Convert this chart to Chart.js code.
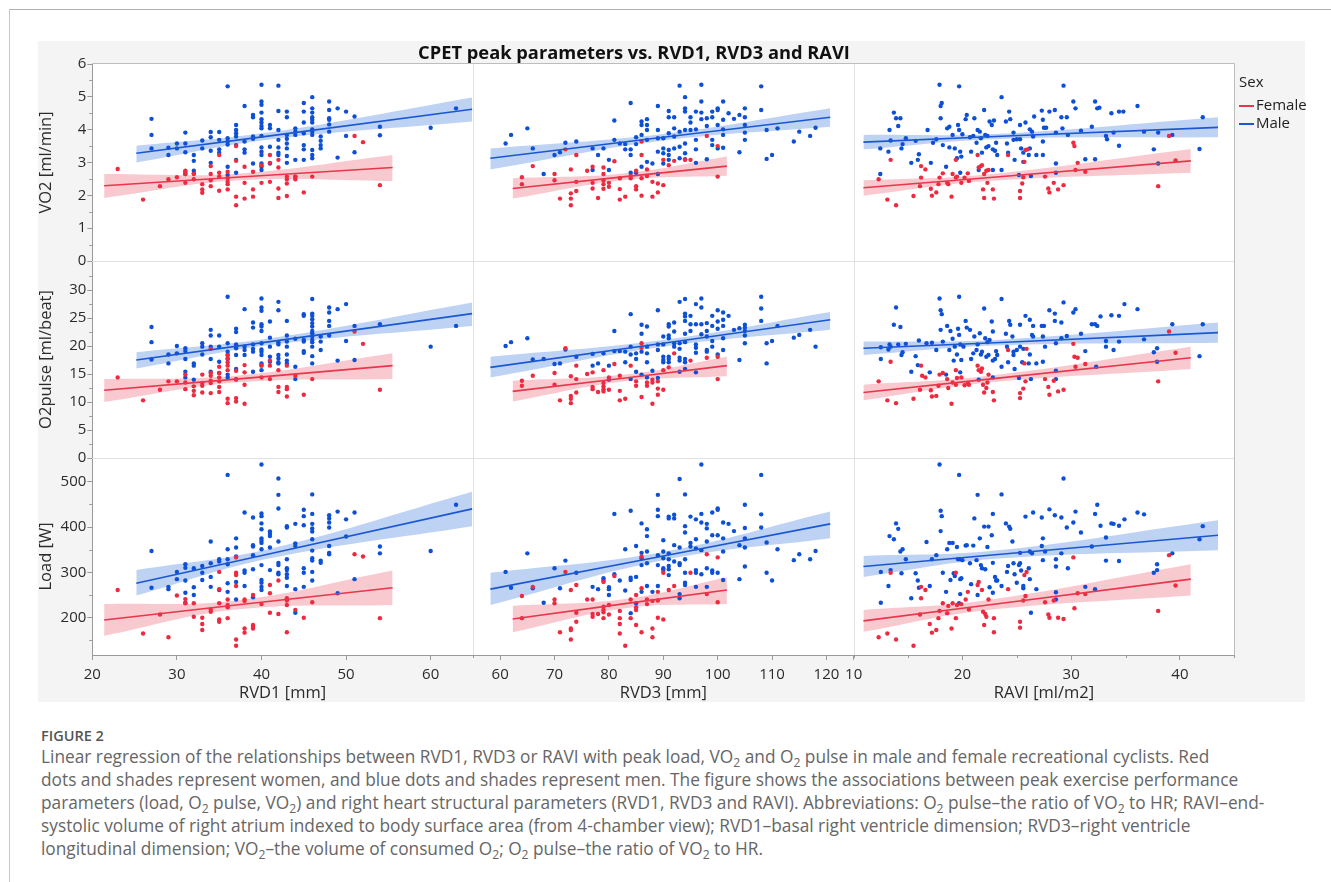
<!DOCTYPE html>
<html>
<head>
<meta charset="utf-8">
<script src="https://cdn.jsdelivr.net/npm/chart.js@4.4.1/dist/chart.umd.min.js"></script>
<style>
  body { margin: 0; background: #fff; font-family: "Open Sans", sans-serif; }
  #frame { position: absolute; left: 9px; top: 9px; right: 0; bottom: 0; border-top: 1px solid #b0b0b0; border-left: 1px solid #c8c8c8; }
  #panel { position: absolute; left: 38px; top: 41px; width: 1267px; height: 661px; background: #f4f4f4; }
  #title { position: absolute; left: 0; width: 1268px; top: 39px; line-height: 24px; text-align: center;
           font: bold 18.3px "Open Sans", sans-serif; color: #111; }
  #legend { position: absolute; left: 1239px; top: 72px; font: 15px "Open Sans", sans-serif; color: #222; }
  #legend div { height: 18px; line-height: 18px; white-space: nowrap; }
  #legend span { display: inline-block; width: 15px; height: 2px; vertical-align: middle; margin-right: 2px; }
  #fig { position: absolute; left: 41px; top: 726px; font: 600 14.5px "Open Sans", sans-serif; color: #555; line-height: 20px; }
  #caption { position: absolute; left: 41px; top: 744.5px; font: 17.3px "Open Sans", sans-serif; color: #666; line-height: 23px; white-space: nowrap; }
  sub { font-size: 70%; line-height: 0; }
</style>
</head>
<body>
<div id="frame"></div>
<div id="panel"><canvas id="grid" width="1267" height="661"></canvas></div>
<div id="title">CPET peak parameters vs. RVD1, RVD3 and RAVI</div>
<div id="legend">
  <div style="margin-bottom:5px">Sex</div>
  <div><span style="background:#e8364b"></span>Female</div>
  <div><span style="background:#1a58d2"></span>Male</div>
</div>
<div id="fig">FIGURE 2</div>
<div id="caption">
Linear regression of the relationships between RVD1, RVD3 or RAVI with peak load, VO<sub>2</sub> and O<sub>2</sub> pulse in male and female recreational cyclists. Red<br>
dots and shades represent women, and blue dots and shades represent men. The figure shows the associations between peak exercise performance<br>
parameters (load, O<sub>2</sub> pulse, VO<sub>2</sub>) and right heart structural parameters (RVD1, RVD3 and RAVI). Abbreviations: O<sub>2</sub> pulse–the ratio of VO<sub>2</sub> to HR; RAVI–end-<br>
systolic volume of right atrium indexed to body surface area (from 4-chamber view); RVD1–basal right ventricle dimension; RVD3–right ventricle<br>
longitudinal dimension; VO<sub>2</sub>–the volume of consumed O<sub>2</sub>; O<sub>2</sub> pulse–the ratio of VO<sub>2</sub> to HR.
</div>
<script>
// tick labels
const vo2Ticks = [0, 1, 2, 3, 4, 5, 6];
const vo2Minor = [0.5, 1.5, 2.5, 3.5, 4.5, 5.5];
const o2pTicks = [0, 5, 10, 15, 20, 25, 30];
const o2pMinor = [2.5, 7.5, 12.5, 17.5, 22.5, 27.5, 32.5];
const loadTicks = [200, 300, 400, 500];
const loadMinor = [150, 250, 350, 450];
const rvd1Ticks = [20, 30, 40, 50, 60];
const rvd1Minor = [65];
const rvd3Ticks = [60, 70, 80, 90, 100, 110, 120];
const rvd3Minor = [55, 125];
const raviTicks = [10, 20, 30, 40];
const raviMinor = [15, 25, 35, 45];

// VO2 peak vs RVD1 / RVD3 / RAVI  [x, y]
const vo2Rvd1M = [[27,4.33],[27,3.84],[27,3.43],[29,3.45],[29,3.23],[30,3.58],[30,3.43],[31,3.91],[31,3.58],[31,3.31],[31,2.72],[31,2.65],[32,3.23],[32,3.05],[32,2.75],[32,2.67],[33,3.67],[33,3.43],[34,3.93],[34,3.77],[34,3.36],[34,2.99],[35,3.93],[35,3.69],[35,3.40],[35,3.30],[36,5.32],[36,3.74],[36,3.64],[36,3.55],[36,2.87],[36,2.62],[37,4.14],[37,3.99],[37,3.89],[37,3.79],[37,3.53],[37,3.08],[37,2.69],[38,4.72],[38,3.64],[38,3.40],[38,3.30],[39,4.45],[39,4.38],[39,3.79],[39,3.72],[39,2.97],[40,5.37],[40,4.86],[40,4.76],[40,4.52],[40,4.32],[40,4.22],[40,4.11],[40,4.04],[40,3.81],[40,3.46],[40,3.33],[40,3.23],[40,2.97],[40,2.87],[40,2.77],[41,4.14],[41,4.04],[41,3.48],[41,2.97],[42,5.34],[42,4.57],[42,3.99],[42,3.69],[42,3.46],[42,3.30],[42,3.23],[43,4.55],[43,4.38],[43,3.84],[43,3.72],[43,3.58],[43,3.43],[43,3.20],[43,2.99],[44,4.04],[44,3.94],[44,3.84],[44,3.08],[44,2.57],[45,4.81],[45,4.55],[45,4.22],[45,3.89],[45,3.53],[45,3.40],[45,3.08],[46,4.99],[46,4.65],[46,4.52],[46,4.38],[46,4.30],[46,4.22],[46,4.01],[46,3.94],[46,3.84],[46,3.38],[46,3.23],[46,3.13],[47,3.79],[47,3.66],[47,3.53],[47,3.43],[48,4.86],[48,4.60],[48,4.35],[48,4.30],[48,4.16],[48,3.94],[49,4.65],[49,3.15],[50,4.55],[50,3.81],[51,4.40],[51,3.31],[54,4.09],[54,3.83],[60,4.06],[63,4.65]];
const vo2Rvd1F = [[23,2.80],[26,1.87],[28,2.28],[29,2.49],[30,2.55],[31,2.75],[31,2.65],[31,2.38],[32,2.65],[32,2.49],[33,2.34],[33,2.18],[33,2.08],[34,2.89],[34,2.65],[34,2.46],[34,2.28],[35,3.23],[35,2.69],[35,2.57],[35,2.14],[36,2.72],[36,2.52],[36,2.41],[36,2.34],[36,2.18],[37,3.50],[37,3.05],[37,1.96],[37,1.70],[38,2.87],[38,2.38],[38,1.90],[39,2.72],[39,2.18],[39,1.96],[40,2.92],[40,2.38],[41,3.23],[41,2.99],[41,2.41],[42,3.08],[42,2.85],[42,2.21],[42,1.92],[43,2.57],[43,2.49],[43,2.36],[43,1.98],[44,2.57],[44,2.49],[45,2.09],[46,2.57],[51,3.81],[52,3.62],[54,2.31]];
const vo2Rvd3M = [[61,3.58],[62,3.84],[65,4.04],[66,3.43],[68,2.65],[70,3.23],[71,3.31],[72,3.60],[74,3.64],[77,3.43],[77,2.77],[78,3.23],[79,3.43],[80,3.08],[80,2.77],[81,4.28],[81,3.69],[82,3.58],[83,3.56],[83,3.40],[84,4.81],[84,3.40],[84,3.23],[84,2.69],[85,3.77],[85,3.56],[85,2.69],[86,4.25],[86,4.14],[86,3.84],[86,2.87],[87,4.32],[87,4.14],[87,3.99],[87,3.69],[87,3.02],[88,2.97],[89,4.72],[89,3.99],[89,3.74],[89,3.33],[89,2.65],[90,3.74],[90,3.43],[90,3.28],[90,2.97],[91,4.57],[91,4.38],[91,3.89],[91,3.38],[91,3.23],[91,3.08],[92,4.38],[92,4.04],[92,3.79],[92,3.43],[93,5.34],[93,3.94],[93,3.48],[93,3.13],[94,4.99],[94,4.65],[94,4.55],[94,3.99],[94,3.58],[94,3.28],[94,3.10],[95,4.38],[95,4.22],[95,3.99],[96,4.55],[96,4.01],[96,3.69],[96,3.40],[96,2.99],[97,5.37],[97,4.86],[97,4.52],[97,4.32],[98,4.35],[98,4.11],[98,3.10],[99,4.55],[99,4.38],[99,3.69],[99,3.53],[100,4.65],[100,4.60],[100,4.14],[100,3.43],[101,4.86],[101,4.30],[101,4.01],[101,3.84],[101,3.45],[102,4.50],[103,4.33],[104,4.45],[104,3.31],[105,4.65],[105,4.38],[105,4.14],[105,3.91],[105,3.69],[108,5.32],[108,4.60],[109,3.99],[109,3.11],[110,3.23],[111,4.04],[114,3.64],[115,3.94],[117,3.81],[118,4.06]];
const vo2Rvd3F = [[64,2.55],[64,2.34],[66,2.89],[70,2.65],[70,2.46],[71,1.90],[72,3.40],[73,2.79],[73,2.06],[73,1.90],[73,1.70],[74,3.23],[74,2.41],[74,2.13],[76,2.75],[77,2.87],[77,2.38],[77,2.21],[78,1.92],[79,2.85],[79,2.65],[79,2.46],[79,2.34],[79,2.20],[80,2.38],[80,2.26],[81,3.04],[82,2.52],[82,2.19],[82,1.87],[83,1.96],[84,2.59],[84,2.52],[85,2.75],[85,2.28],[85,2.18],[86,3.64],[86,3.23],[86,2.52],[86,1.99],[87,2.79],[87,2.59],[88,2.41],[88,1.96],[89,2.36],[89,2.09],[90,3.08],[90,2.31],[91,2.92],[92,3.05],[94,3.08],[95,3.08],[98,3.81],[100,3.50],[100,2.57]];
const vo2RaviM = [[12.45,2.65],[12.45,3.43],[13.2,3.33],[13.3,3.99],[13.4,3.67],[13.7,4.52],[13.9,4.35],[14.1,4.11],[14.3,4.35],[14.4,3.43],[14.5,3.56],[14.8,3.74],[15.3,2.99],[15.7,3.66],[15.9,3.08],[16.0,3.25],[16.8,3.99],[17.1,2.99],[17.3,3.60],[17.6,3.71],[17.9,5.37],[18.0,4.72],[18.1,4.81],[18.0,4.35],[18.2,3.53],[18.5,2.87],[18.6,4.04],[18.8,4.09],[18.8,3.46],[19.1,3.84],[19.3,3.43],[19.5,3.13],[19.6,4.14],[19.7,5.32],[19.7,3.99],[19.8,2.69],[19.8,3.33],[19.9,3.18],[20.0,3.86],[20.3,4.32],[20.4,4.45],[20.7,3.77],[20.8,3.33],[21.0,3.81],[21.1,4.35],[21.3,3.60],[21.4,3.99],[21.5,2.77],[21.6,3.94],[21.7,3.74],[21.8,3.30],[22.0,4.60],[22.1,3.84],[22.2,3.46],[22.3,3.81],[22.4,3.50],[22.5,4.25],[22.7,4.14],[22.8,3.40],[22.9,4.28],[22.8,2.77],[23.0,3.36],[23.1,3.60],[23.2,3.23],[23.6,4.99],[23.6,2.77],[24.0,4.25],[24.1,3.58],[24.2,3.30],[24.3,4.55],[24.4,4.32],[24.7,3.91],[24.7,3.69],[24.8,3.08],[25.0,3.71],[25.2,2.62],[25.3,3.71],[25.3,4.14],[25.4,3.43],[25.6,3.02],[25.6,3.30],[25.8,4.22],[26.1,3.23],[26.2,4.01],[26.2,3.43],[26.3,2.59],[26.4,3.94],[26.5,3.79],[26.6,4.40],[26.8,3.23],[27.3,4.58],[27.4,3.23],[27.4,3.64],[27.4,4.30],[27.5,4.06],[27.7,4.06],[28.0,4.55],[28.5,4.60],[28.6,2.97],[28.6,3.91],[28.6,2.69],[29.1,4.38],[29.3,5.34],[29.2,4.04],[29.6,4.38],[29.7,3.84],[30.2,4.86],[30.4,4.65],[30.9,3.97],[31.3,3.10],[31.9,4.09],[32.2,4.86],[32.4,4.65],[32.6,4.67],[32.2,3.10],[33.2,3.81],[33.3,3.71],[33.7,4.50],[33.9,3.91],[34.4,4.55],[34.4,3.51],[34.8,4.55],[36.1,4.72],[36.7,3.94],[37.6,3.40],[38.0,3.91],[38.0,2.97],[39.3,3.84],[41.8,3.41],[42.1,4.38]];
const vo2RaviF = [[12.3,2.49],[13.1,1.87],[13.4,3.08],[13.9,1.70],[15.5,1.98],[16.1,2.28],[16.2,2.54],[16.2,2.89],[16.6,2.79],[17.1,2.20],[17.2,1.99],[17.6,2.09],[17.8,2.34],[17.9,2.54],[18.2,2.67],[18.6,2.38],[18.7,2.34],[19.0,1.96],[19.1,2.65],[19.4,2.54],[19.4,3.08],[19.5,2.57],[19.9,2.38],[20.2,2.54],[20.5,2.67],[20.6,2.44],[21.4,3.23],[21.5,2.85],[21.7,2.89],[21.8,2.92],[21.9,2.18],[22.0,2.65],[22.0,1.92],[22.2,2.75],[22.4,2.77],[22.3,2.38],[22.8,2.18],[22.9,1.90],[24.2,3.23],[25.3,1.92],[25.3,2.13],[25.5,2.36],[25.6,2.55],[25.7,3.02],[25.8,3.38],[26.0,3.40],[27.6,2.57],[27.9,2.21],[28.0,2.09],[28.4,2.38],[28.8,2.18],[29.3,2.31],[30.2,3.60],[30.3,3.50],[30.6,2.99],[30.4,2.77],[31.3,2.72],[38.0,2.28],[39.0,3.81],[39.6,3.06]];

// O2 pulse peak vs RVD1 / RVD3 / RAVI
const o2pRvd1M = [[27,23.4],[27,20.7],[27,17.6],[29,18.5],[29,16.9],[30,20.0],[30,18.7],[31,19.6],[31,19.1],[31,17.7],[31,15.4],[31,14.4],[32,16.9],[32,16.5],[32,14.0],[33,20.5],[33,19.9],[33,18.5],[34,22.9],[34,21.9],[34,19.9],[34,17.7],[34,15.4],[35,21.9],[35,19.9],[35,17.2],[35,15.2],[36,28.8],[36,20.5],[36,19.0],[36,18.4],[36,17.7],[36,14.9],[36,14.4],[37,23.1],[37,22.5],[37,20.3],[37,19.9],[37,19.6],[37,18.4],[37,15.9],[37,14.1],[38,26.6],[38,19.9],[38,19.3],[38,18.4],[39,24.2],[39,23.3],[39,20.3],[39,19.5],[39,19.0],[39,15.4],[40,28.5],[40,26.9],[40,26.3],[40,23.9],[40,23.5],[40,22.7],[40,20.5],[40,19.4],[40,19.0],[40,18.4],[40,16.9],[40,16.5],[40,15.7],[41,24.4],[41,21.5],[41,19.9],[41,18.1],[41,17.2],[42,27.9],[42,26.4],[42,20.7],[42,20.3],[42,18.4],[42,17.8],[42,17.1],[42,16.9],[43,24.5],[43,21.9],[43,20.8],[43,19.9],[43,18.5],[43,17.4],[43,16.9],[44,21.3],[44,16.3],[44,14.1],[45,25.7],[45,25.4],[45,21.1],[45,20.8],[45,19.1],[45,18.8],[46,28.4],[46,25.8],[46,25.4],[46,24.8],[46,24.1],[46,23.5],[46,22.7],[46,22.3],[46,21.7],[46,21.1],[46,20.7],[46,19.9],[46,18.2],[46,16.9],[47,21.7],[47,20.8],[47,19.3],[48,26.9],[48,26.0],[48,24.5],[48,23.6],[48,21.9],[49,26.6],[49,17.4],[50,27.5],[50,20.9],[51,23.6],[51,17.5],[54,23.9],[60,19.9],[63,23.6]];
const o2pRvd1F = [[23,14.4],[26,10.3],[28,12.2],[29,13.7],[30,13.7],[31,14.9],[31,13.5],[31,12.3],[32,12.8],[32,12.0],[32,11.2],[33,14.9],[33,13.4],[33,12.9],[33,11.7],[34,19.5],[34,15.2],[34,14.7],[34,13.8],[34,13.4],[34,11.6],[35,16.3],[35,15.2],[35,14.4],[35,13.7],[35,12.7],[35,11.8],[36,18.4],[36,17.8],[36,17.1],[36,16.5],[36,15.7],[36,10.6],[36,9.8],[37,15.6],[37,14.0],[37,10.7],[37,10.1],[38,16.6],[38,15.3],[38,13.1],[38,9.7],[40,16.6],[40,14.4],[41,17.4],[41,16.5],[41,14.1],[42,15.7],[42,12.7],[42,11.8],[43,16.5],[43,12.7],[43,12.3],[43,11.0],[44,14.7],[45,11.3],[46,14.1],[51,22.6],[52,20.4],[54,12.2]];
const o2pRvd3M = [[61,20.0],[62,20.7],[65,21.4],[66,17.6],[68,17.7],[70,16.8],[71,16.9],[72,19.4],[74,18.1],[77,18.6],[77,16.5],[78,16.9],[79,18.7],[80,16.5],[80,14.0],[81,22.7],[81,19.1],[82,19.1],[83,19.0],[83,17.1],[84,25.7],[84,19.9],[84,18.5],[84,14.1],[85,18.7],[85,17.7],[85,15.4],[86,23.8],[86,22.2],[86,19.0],[86,14.9],[87,23.5],[87,19.9],[87,18.7],[87,17.1],[87,14.4],[88,15.6],[89,26.4],[89,20.3],[89,19.3],[89,14.3],[90,21.7],[90,20.3],[90,18.1],[90,17.5],[90,17.1],[91,23.9],[91,23.5],[91,21.9],[91,21.4],[91,18.1],[91,17.7],[91,17.1],[92,24.2],[92,22.6],[92,19.9],[92,20.5],[93,27.9],[93,20.5],[93,19.5],[93,17.9],[93,17.4],[93,15.4],[94,28.4],[94,25.8],[94,25.3],[94,24.5],[94,22.2],[94,20.7],[94,17.7],[94,17.1],[94,15.9],[95,25.4],[95,23.9],[95,22.7],[96,27.5],[96,23.9],[96,20.3],[96,19.7],[96,18.8],[96,15.3],[97,28.5],[97,26.9],[97,23.9],[97,22.1],[98,24.1],[98,22.7],[98,21.7],[98,19.3],[98,19.0],[99,25.4],[99,23.6],[99,20.9],[99,19.9],[100,26.4],[100,24.4],[100,23.1],[100,18.5],[101,26.0],[101,24.7],[101,23.6],[101,21.4],[101,19.3],[102,25.4],[103,22.9],[104,23.2],[104,17.5],[105,23.8],[105,23.3],[105,22.7],[105,21.9],[105,20.5],[108,28.8],[108,26.7],[108,24.5],[109,20.5],[109,16.9],[110,20.9],[111,23.6],[114,21.5],[115,22.0],[117,22.9],[118,19.9]];
const o2pRvd3F = [[64,13.8],[64,12.9],[66,14.7],[70,15.2],[70,13.1],[71,10.3],[72,19.6],[73,14.6],[73,11.1],[73,10.6],[73,9.8],[74,16.5],[74,14.1],[74,11.7],[76,15.0],[77,15.3],[77,12.7],[77,12.3],[78,11.8],[79,15.7],[79,13.4],[79,12.8],[79,12.3],[79,11.9],[80,14.4],[80,12.2],[81,16.8],[82,14.7],[82,12.0],[82,10.3],[83,10.6],[84,16.5],[85,13.7],[85,12.9],[86,20.5],[86,19.7],[86,10.9],[87,13.5],[87,12.9],[88,14.0],[88,13.5],[88,9.7],[89,13.7],[89,12.4],[89,11.3],[90,15.7],[90,12.2],[91,16.2],[92,18.7],[95,17.4],[98,17.9],[100,18.1],[100,14.1]];
const o2pRaviM = [[12.5,17.7],[12.5,19.8],[13.2,19.4],[13.3,20.3],[13.4,19.9],[13.7,23.8],[13.9,26.9],[14.1,20.3],[14.3,23.4],[14.4,18.4],[14.5,18.9],[14.8,20.4],[15.3,15.4],[15.7,18.2],[15.9,16.6],[16.0,21.0],[16.7,20.5],[17.0,15.3],[17.2,20.6],[17.6,19.3],[17.9,28.5],[18.0,26.4],[18.1,25.7],[18.0,22.9],[18.2,20.8],[18.5,14.9],[18.6,23.6],[18.8,19.3],[18.9,22.7],[19.1,21.3],[19.3,19.9],[19.2,17.4],[19.5,18.5],[19.6,23.1],[19.7,28.8],[19.7,22.0],[19.8,15.3],[19.8,20.3],[19.9,17.5],[20.1,19.9],[20.3,24.5],[20.4,23.3],[20.7,22.9],[20.8,17.7],[21.0,18.7],[21.1,21.7],[21.3,19.3],[21.4,20.3],[21.5,14.0],[21.6,22.3],[21.7,18.5],[21.8,19.0],[22.0,26.7],[22.1,21.4],[22.2,18.1],[22.3,20.7],[22.4,18.4],[22.5,21.1],[22.7,24.4],[22.8,17.4],[22.8,22.6],[22.8,14.4],[23.0,17.7],[23.1,19.1],[23.2,18.4],[23.6,28.4],[23.6,16.3],[24.0,22.2],[24.1,19.9],[24.2,17.1],[24.3,24.5],[24.4,23.8],[24.6,21.7],[24.7,18.4],[24.7,19.0],[24.8,15.9],[25.0,19.3],[25.2,14.3],[25.3,19.9],[25.3,23.8],[25.5,17.1],[25.6,19.5],[25.8,25.4],[26.1,16.9],[26.2,24.7],[26.2,18.5],[26.3,14.1],[26.4,22.0],[26.5,23.6],[26.5,21.7],[26.8,16.9],[27.3,23.6],[27.4,17.2],[27.5,23.6],[27.4,21.7],[27.6,19.9],[28.0,26.4],[28.5,25.8],[28.5,24.5],[28.6,20.5],[28.6,15.6],[28.6,14.1],[29.1,24.2],[29.1,21.4],[29.3,27.8],[29.6,21.8],[30.2,26.0],[30.4,26.6],[30.9,22.2],[31.3,19.1],[31.9,23.9],[32.2,23.9],[32.4,23.6],[32.3,16.3],[32.7,25.3],[33.2,20.9],[33.2,19.9],[33.7,25.5],[33.9,19.3],[34.4,25.4],[34.4,20.8],[34.9,27.5],[36.1,26.6],[36.7,21.2],[37.6,18.9],[37.9,19.6],[37.9,17.2],[39.3,23.9],[41.8,18.2],[42.1,23.9]];
const o2pRaviF = [[12.3,13.7],[13.1,10.3],[13.4,17.2],[13.9,9.8],[15.5,10.6],[16.1,12.2],[16.2,16.5],[16.3,14.7],[16.6,14.4],[17.1,12.1],[17.2,11.0],[17.6,11.1],[17.8,12.9],[17.9,14.9],[18.2,15.2],[18.6,14.1],[18.7,12.5],[19.0,9.7],[19.1,13.5],[19.4,13.1],[19.4,15.7],[19.5,14.3],[19.9,14.4],[20.2,13.0],[20.5,13.4],[20.6,13.1],[21.4,16.5],[21.5,15.7],[21.7,15.4],[21.8,16.0],[21.9,13.1],[22.0,11.7],[22.2,12.5],[22.4,14.9],[22.3,13.5],[22.8,11.8],[22.9,10.3],[24.2,19.3],[25.3,10.7],[25.3,11.6],[25.6,12.4],[25.7,16.9],[25.8,13.7],[25.9,19.5],[27.6,14.1],[27.9,12.7],[28.0,11.3],[28.4,13.8],[28.8,11.9],[29.3,12.2],[30.2,20.4],[30.3,18.1],[30.6,17.9],[30.4,16.3],[31.3,16.8],[38.0,13.7],[39.0,22.6],[39.6,18.8]];

// Peak load vs RVD1 / RVD3 / RAVI
const loadRvd1M = [[27,347],[27,266],[29,268],[29,263],[30,301],[30,285],[31,318],[31,310],[31,282],[31,255],[31,233],[32,309],[32,267],[32,250],[33,314],[33,299],[33,283],[34,368],[34,320],[34,290],[34,268],[35,329],[35,324],[35,261],[36,515],[36,351],[36,329],[36,318],[36,276],[36,257],[37,375],[37,355],[37,335],[37,279],[37,240],[38,432],[38,304],[38,299],[38,270],[39,421],[39,360],[39,357],[39,338],[39,307],[39,245],[40,538],[40,430],[40,424],[40,408],[40,395],[40,375],[40,370],[40,365],[40,351],[40,316],[40,283],[40,277],[40,268],[40,261],[41,390],[41,385],[41,380],[41,355],[41,305],[42,507],[42,471],[42,441],[42,368],[42,321],[42,316],[42,299],[42,296],[43,402],[43,399],[43,329],[43,309],[43,305],[43,296],[43,288],[43,270],[44,407],[44,364],[44,358],[44,263],[44,211],[45,438],[45,424],[45,404],[45,309],[45,299],[45,268],[46,472],[46,429],[46,407],[46,397],[46,390],[46,373],[46,348],[46,331],[46,326],[46,301],[46,282],[47,326],[47,321],[48,426],[48,419],[48,410],[48,399],[48,358],[48,343],[48,340],[49,434],[49,254],[50,417],[50,379],[51,432],[51,285],[54,357],[54,342],[60,347],[63,449]];
const loadRvd1F = [[23,261],[26,165],[28,207],[29,157],[30,249],[31,241],[31,232],[32,232],[32,202],[33,200],[33,186],[33,173],[34,218],[34,213],[35,301],[35,263],[35,232],[35,196],[35,191],[36,240],[36,228],[36,223],[36,199],[37,333],[37,299],[37,294],[37,270],[37,152],[37,138],[38,240],[38,237],[38,176],[38,167],[39,250],[39,184],[39,180],[39,176],[40,230],[41,272],[41,254],[41,211],[42,282],[42,208],[43,243],[43,238],[43,228],[43,168],[44,217],[45,200],[46,234],[51,340],[52,335],[54,199]];
const loadRvd3M = [[61,301],[62,266],[65,342],[66,265],[68,233],[70,309],[71,265],[72,326],[74,299],[77,268],[78,263],[79,287],[79,282],[80,267],[80,263],[80,250],[81,429],[81,296],[82,282],[83,351],[83,260],[84,436],[84,288],[84,283],[84,210],[85,358],[85,290],[85,232],[86,408],[86,343],[86,331],[86,316],[86,257],[87,395],[87,380],[87,346],[87,320],[87,270],[88,257],[89,471],[89,438],[89,424],[89,338],[89,316],[89,270],[90,371],[90,346],[90,331],[90,309],[90,305],[91,423],[91,419],[91,342],[91,329],[91,314],[91,307],[91,294],[92,427],[92,419],[92,360],[92,324],[93,506],[93,355],[93,320],[93,316],[93,252],[93,243],[94,472],[94,402],[94,388],[94,329],[94,299],[94,277],[94,272],[95,423],[95,365],[95,357],[96,417],[96,373],[96,353],[96,305],[96,299],[96,268],[97,538],[97,429],[97,410],[97,349],[97,296],[98,407],[98,397],[98,368],[98,309],[98,268],[99,432],[99,382],[99,304],[99,299],[100,441],[100,438],[100,382],[100,299],[101,410],[101,375],[101,346],[101,283],[102,407],[103,391],[104,360],[104,285],[105,449],[105,398],[105,375],[105,355],[105,313],[108,515],[108,428],[108,399],[109,366],[109,299],[110,282],[111,351],[114,327],[115,340],[117,329],[118,347]];
const loadRvd3F = [[64,248],[64,199],[66,268],[70,240],[70,232],[71,168],[72,301],[73,261],[73,176],[73,173],[73,152],[74,272],[74,211],[74,191],[76,240],[77,240],[77,208],[77,202],[78,208],[79,279],[79,224],[79,217],[79,212],[79,199],[80,228],[80,207],[81,292],[82,215],[82,199],[82,186],[82,165],[83,138],[84,240],[84,199],[85,250],[85,223],[85,217],[85,184],[86,335],[86,265],[86,168],[87,240],[87,230],[88,237],[88,176],[88,157],[89,257],[89,238],[89,200],[90,299],[90,196],[91,261],[92,270],[95,299],[98,340],[98,252],[100,333],[100,234]];
const loadRaviM = [[12.5,233],[12.5,301],[13.2,270],[13.3,380],[13.4,305],[13.7,373],[13.9,408],[14.1,396],[14.3,346],[14.4,298],[14.5,351],[14.8,329],[15.3,243],[15.7,298],[15.9,282],[16.0,266],[16.7,367],[17.0,270],[17.2,329],[17.6,338],[17.9,538],[18.0,436],[18.1,424],[18.0,391],[18.2,299],[18.5,257],[18.6,351],[18.8,365],[18.9,283],[19.1,365],[19.3,292],[19.2,298],[19.5,356],[19.6,329],[19.7,515],[19.8,285],[19.8,329],[19.9,287],[19.7,232],[19.8,252],[20.0,327],[20.3,359],[20.4,360],[20.7,320],[20.8,274],[21.0,359],[21.1,419],[21.3,327],[21.4,250],[21.4,471],[21.6,375],[21.7,316],[21.8,309],[22.0,401],[22.1,307],[22.3,356],[22.4,401],[22.5,267],[22.7,382],[22.8,429],[22.8,321],[22.8,255],[23.0,290],[23.1,282],[23.2,282],[23.6,472],[23.6,270],[24.0,408],[24.1,301],[24.2,314],[24.3,401],[24.4,396],[24.6,368],[24.7,320],[24.8,296],[25.0,277],[25.2,316],[25.3,343],[25.3,320],[25.4,304],[25.6,270],[25.6,265],[25.8,423],[26.1,309],[26.2,346],[26.2,285],[26.3,211],[26.4,342],[26.5,432],[26.8,263],[27.3,421],[27.4,327],[27.4,375],[27.3,358],[27.6,346],[28.0,439],[28.5,426],[28.6,313],[28.6,329],[28.6,240],[28.6,256],[29.1,421],[29.1,342],[29.3,507],[29.6,399],[29.7,309],[30.2,410],[30.4,434],[30.9,388],[31.3,268],[31.9,357],[32.2,429],[32.4,449],[32.2,263],[32.7,403],[33.2,377],[33.2,326],[33.7,408],[33.9,407],[34.4,403],[34.4,325],[34.9,417],[36.1,432],[36.7,428],[37.6,299],[37.9,318],[37.9,305],[39.3,342],[41.8,373],[42.1,402]];
const loadRaviF = [[12.3,157],[13.1,165],[13.4,299],[13.9,152],[15.5,138],[16.1,207],[16.2,268],[16.2,243],[16.6,261],[17.0,186],[17.2,167],[17.6,173],[17.8,199],[17.9,215],[18.2,232],[18.6,210],[18.7,226],[19.0,176],[19.1,232],[19.4,199],[19.4,299],[19.5,228],[19.9,230],[20.3,240],[20.5,257],[20.6,218],[21.4,272],[21.5,279],[21.8,261],[21.9,213],[22.0,184],[22.1,208],[22.2,202],[22.4,240],[22.9,199],[22.9,168],[24.2,263],[25.3,178],[25.3,191],[25.6,238],[25.7,294],[25.8,248],[25.9,301],[27.6,234],[27.9,207],[28.0,200],[28.4,238],[28.8,200],[29.3,197],[30.2,333],[30.3,221],[30.6,254],[31.3,252],[38.0,215],[39.0,338],[39.6,271]];

// fitted lines with confidence band  [x, fit, lower, upper]
const fitVo2Rvd1M = [[25.2,3.28,3.00,3.51],[41,3.81,3.70,3.92],[64.9,4.62,4.25,4.98]];
const fitVo2Rvd1F = [[21.4,2.29,1.92,2.65],[37,2.55,2.45,2.66],[55.5,2.85,2.44,3.23]];
const fitVo2Rvd3M = [[58.2,3.13,2.79,3.43],[90,3.77,3.67,3.87],[120.7,4.38,4.09,4.65]];
const fitVo2Rvd3F = [[62.3,2.21,1.90,2.52],[83,2.57,2.47,2.67],[101.7,2.89,2.60,3.18]];
const fitVo2RaviM = [[10.9,3.62,3.40,3.84],[23,3.79,3.71,3.87],[43.5,4.07,3.77,4.38]];
const fitVo2RaviF = [[10.9,2.23,1.99,2.46],[22,2.53,2.43,2.63],[41.0,3.05,2.69,3.41]];
const fitO2pRvd1M = [[25.2,17.5,16.0,18.9],[41,20.8,20.2,21.4],[64.9,25.8,23.6,27.8]];
const fitO2pRvd1F = [[21.4,12.1,10.0,14.1],[37,14.1,13.5,14.7],[55.5,16.5,14.1,18.7]];
const fitO2pRvd3M = [[58.2,16.2,14.4,18.1],[90,20.5,19.9,21.1],[120.7,24.7,22.9,26.1]];
const fitO2pRvd3F = [[62.3,11.9,10.1,13.8],[83,14.3,13.7,14.9],[101.7,16.5,14.6,18.1]];
const fitO2pRaviM = [[10.9,19.6,18.4,20.8],[23,20.6,20.1,21.1],[43.5,22.4,20.6,24.2]];
const fitO2pRaviF = [[10.9,11.7,10.3,13.1],[22,14.0,13.4,14.6],[41.0,17.9,15.9,19.9]];
const fitLoadRvd1M = [[25.2,276,249,305],[41,341,331,352],[64.9,440,402,478]];
const fitLoadRvd1F = [[21.4,195,160,230],[37,228,218,238],[55.5,266,228,304]];
const fitLoadRvd3M = [[58.2,263,228,299],[90,336,327,345],[120.7,407,375,434]];
const fitLoadRvd3F = [[62.3,197,168,226],[83,231,221,241],[101.7,261,230,289]];
const fitLoadRaviM = [[10.9,313,290,336],[23,339,330,348],[43.5,382,349,415]];
const fitLoadRaviF = [[10.9,193,169,217],[22,227,216,238],[41.0,285,249,318]];

const MALE = { dot: '#0d50d6', line: '#1a58d2', band: 'rgba(64, 124, 222, 0.34)' };
const FEMALE = { dot: '#ee2a40', line: '#e8364b', band: 'rgba(238, 96, 118, 0.34)' };
const AXIS = '#9a9a9a';
const TEXT = '#2b2b2b';
const font = { family: '"Open Sans", sans-serif', size: 15 };
const titleFont = { family: '"Open Sans", sans-serif', size: 16.5, lineHeight: 1 };

const cols = [
  { id: 'xRvd1', min: 20, max: 65, ticks: rvd1Ticks, minor: rvd1Minor, title: 'RVD1 [mm]' },
  { id: 'xRvd3', min: 55, max: 125, ticks: rvd3Ticks, minor: rvd3Minor, title: 'RVD3 [mm]' },
  { id: 'xRavi', min: 10, max: 45, ticks: raviTicks, minor: raviMinor, title: 'RAVI [ml/m2]' }
];
const rows = [
  { id: 'yVo2', min: 0, max: 6, ticks: vo2Ticks, minor: vo2Minor, title: 'VO2 [ml/min]' },
  { id: 'yO2p', min: 0, max: 35.2, ticks: o2pTicks, minor: o2pMinor, title: 'O2pulse [ml/beat]' },
  { id: 'yLoad', min: 117.7, max: 552.3, ticks: loadTicks, minor: loadMinor, title: 'Load [W]' }
];

const panels = [
  [0, 0, vo2Rvd1M, vo2Rvd1F, fitVo2Rvd1M, fitVo2Rvd1F],
  [0, 1, vo2Rvd3M, vo2Rvd3F, fitVo2Rvd3M, fitVo2Rvd3F],
  [0, 2, vo2RaviM, vo2RaviF, fitVo2RaviM, fitVo2RaviF],
  [1, 0, o2pRvd1M, o2pRvd1F, fitO2pRvd1M, fitO2pRvd1F],
  [1, 1, o2pRvd3M, o2pRvd3F, fitO2pRvd3M, fitO2pRvd3F],
  [1, 2, o2pRaviM, o2pRaviF, fitO2pRaviM, fitO2pRaviF],
  [2, 0, loadRvd1M, loadRvd1F, fitLoadRvd1M, fitLoadRvd1F],
  [2, 1, loadRvd3M, loadRvd3F, fitLoadRvd3M, fitLoadRvd3F],
  [2, 2, loadRaviM, loadRaviF, fitLoadRaviM, fitLoadRaviF]
];

const datasets = [];
panels.forEach(([r, c, male, female, fitM, fitF]) => {
  const axes = { xAxisID: cols[c].id, yAxisID: rows[r].id };
  [[female, fitF, FEMALE], [male, fitM, MALE]].forEach(([pts, fit, col]) => {
    datasets.push({ ...axes, type: 'line', data: fit.map(f => ({ x: f[0], y: f[2] })),
      borderWidth: 0, pointRadius: 0, fill: false, tension: 0.4, order: 3 });
    datasets.push({ ...axes, type: 'line', data: fit.map(f => ({ x: f[0], y: f[3] })),
      borderWidth: 0, pointRadius: 0, fill: '-1', backgroundColor: col.band, tension: 0.4, order: 3 });
    datasets.push({ ...axes, type: 'scatter', data: pts.map(p => ({ x: p[0], y: p[1] })),
      pointRadius: 2.2, pointBackgroundColor: col.dot, pointBorderWidth: 0, order: 2 });
    datasets.push({ ...axes, type: 'line', data: fit.map(f => ({ x: f[0], y: f[1] })),
      borderColor: col.line, borderWidth: 1.6, pointRadius: 0, fill: false, order: 1 });
  });
});

function axis(a, position) {
  const vertical = position === 'left';
  return {
    type: 'linear', position, stack: vertical ? 'rows' : 'cols', stackWeight: 1,
    min: a.min, max: a.max,
    afterBuildTicks: s => { s.ticks = a.ticks.map(v => ({ value: v })); },
    afterFit: s => { if (vertical) s.width = 54.3; else s.height = 47; },
    grid: { drawOnChartArea: false, tickLength: 5, tickColor: AXIS },
    border: { color: AXIS },
    ticks: { font, color: TEXT, padding: vertical ? 1 : 6, maxRotation: 0, autoSkip: false, callback: v => v },
    title: { display: true, text: a.title, font: titleFont, color: TEXT, padding: 0 }
  };
}

// x stack fills left to right in order, left stack fills top down from the last one
const scales = {};
cols.forEach(a => { scales[a.id] = axis(a, 'bottom'); });
rows.slice().reverse().forEach(a => { scales[a.id] = axis(a, 'left'); });

const panelFrame = {
  id: 'panelFrame',
  beforeDraw(chart) {
    const { ctx, chartArea: ca } = chart;
    ctx.save();
    ctx.fillStyle = '#fff';
    ctx.fillRect(ca.left, ca.top, ca.width, ca.height);
    ctx.restore();
  },
  beforeDatasetsDraw(chart) {
    const { ctx, chartArea: ca, scales: s } = chart;
    ctx.save();
    ctx.strokeStyle = '#e2e2e2';
    ctx.lineWidth = 1;
    ctx.beginPath();
    [s.xRvd1.right, s.xRvd3.right].forEach(x => {
      ctx.moveTo(Math.round(x) + 0.5, ca.top); ctx.lineTo(Math.round(x) + 0.5, ca.bottom);
    });
    [s.yVo2.bottom, s.yO2p.bottom].forEach(y => {
      ctx.moveTo(ca.left, Math.round(y) + 0.5); ctx.lineTo(ca.right, Math.round(y) + 0.5);
    });
    ctx.stroke();
    ctx.restore();
  },
  afterDraw(chart) {
    const { ctx, chartArea: ca, scales: s } = chart;
    ctx.save();
    ctx.strokeStyle = '#bdbdbd';
    ctx.lineWidth = 1;
    ctx.beginPath();
    ctx.moveTo(ca.left, Math.round(ca.top) - 0.5); ctx.lineTo(Math.round(ca.right) + 0.5, Math.round(ca.top) - 0.5);
    ctx.lineTo(Math.round(ca.right) + 0.5, ca.bottom);
    ctx.stroke();
    ctx.strokeStyle = AXIS;
    ctx.beginPath();
    cols.forEach(a => a.minor.forEach(v => {
      const x = Math.round(s[a.id].getPixelForValue(v)) + 0.5;
      ctx.moveTo(x, ca.bottom); ctx.lineTo(x, ca.bottom + 3);
    }));
    rows.forEach(a => a.minor.forEach(v => {
      const y = Math.round(s[a.id].getPixelForValue(v)) + 0.5;
      ctx.moveTo(ca.left - 3, y); ctx.lineTo(ca.left, y);
    }));
    ctx.stroke();
    ctx.restore();
  }
};

new Chart(document.getElementById('grid'), {
  type: 'scatter',
  data: { datasets },
  options: {
    responsive: false,
    animation: false,
    events: [],
    layout: { padding: { top: 23, right: 70.7, bottom: 0, left: 0 } },
    plugins: { legend: { display: false }, tooltip: { enabled: false }, title: { display: false } },
    scales
  },
  plugins: [panelFrame]
});
</script>
</body>
</html>
